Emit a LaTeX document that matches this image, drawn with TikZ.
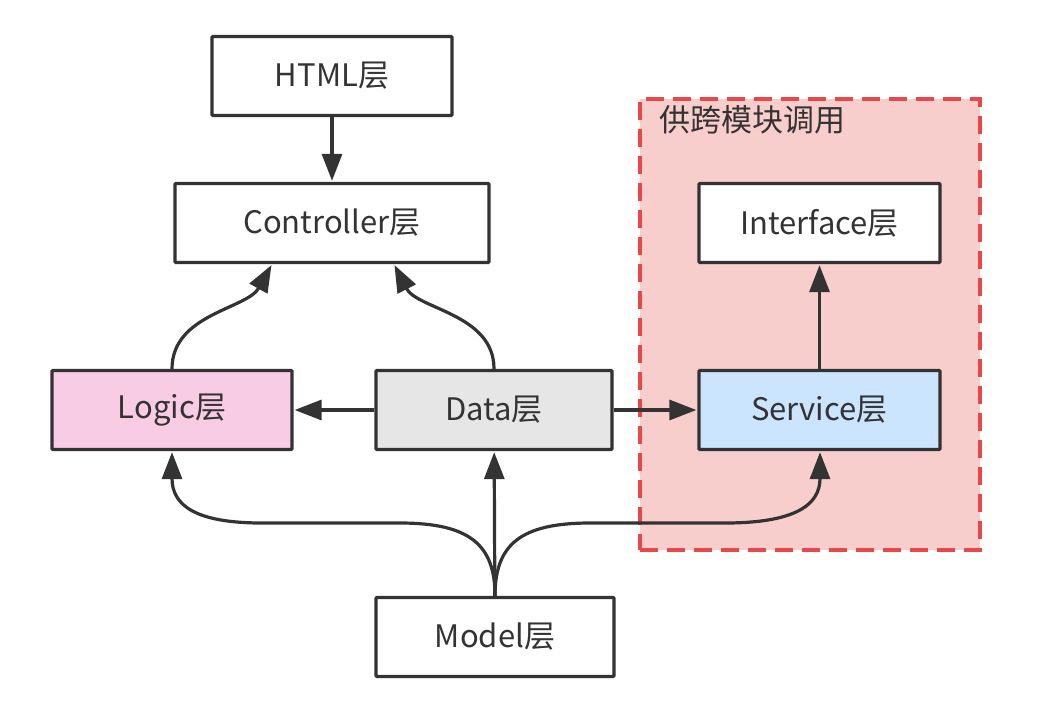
\documentclass[tikz,border=0pt]{standalone}
\usepackage{fontspec}
\setmainfont{Noto Sans CJK SC}
\usetikzlibrary{arrows.meta}
\definecolor{ink}{HTML}{333333}
\definecolor{logicfill}{HTML}{F8CCE4}
\definecolor{datafill}{HTML}{E6E6E6}
\definecolor{servfill}{HTML}{CCE5FF}
\definecolor{grpfill}{HTML}{F8CECC}
\definecolor{grpline}{HTML}{EA4848}
\begin{document}
\begin{tikzpicture}[x=1pt,y=-1pt,
  box/.style={draw=ink, fill=white, line width=3.3pt, minimum width=240pt, minimum height=79pt, inner sep=0pt, font=\fontsize{31}{36}\selectfont, text=ink, rounded corners=1pt},
  conn/.style={draw=ink, line width=3.2pt, -{Triangle[length=27pt,width=20pt]}, shorten >=1pt}]
\useasboundingbox (0,0) rectangle (1048,712);
% group
\node[draw=grpline, fill=grpfill, line width=3.3pt, dash pattern=on 18pt off 9pt, minimum width=340pt, minimum height=451pt, inner sep=0pt] (grp) at (810,324.5) {};
\node[anchor=west, font=\fontsize{31}{36}\selectfont, text=ink, inner sep=0pt] (grplabel) at (659,120) {供跨模块调用};
% boxes
\node[box] (H) at (332,76) {HTML层};
\node[box, minimum width=314pt] (C) at (332,223) {Controller层};
\node[box, minimum width=241pt] (I) at (819.5,223) {Interface层};
\node[box, fill=logicfill] (L) at (172,410) {Logic层};
\node[box, fill=datafill, minimum width=236pt] (D) at (494,410) {Data层};
\node[box, fill=servfill, minimum width=241pt] (S) at (819.5,410) {Service层};
\node[box, minimum width=238pt] (M) at (495,637) {Model层};
% connectors
\draw[conn] (H) -- (C);
\draw[conn] (S) -- (I);
\draw[conn] (D) -- (L);
\draw[conn] (D) -- (S);
\draw[conn] (M) -- (D);
\draw[conn] (L.north) .. controls ([yshift=55pt]L.north) and ([xshift=-85pt,yshift=-45pt]C.south) .. ([xshift=-60pt]C.south);
\draw[conn] (D.north) .. controls ([yshift=55pt]D.north) and ([xshift=85pt,yshift=-45pt]C.south) .. ([xshift=62pt]C.south);
\coordinate (ml1) at (400,523);
\coordinate (ml2) at (262,523);
\coordinate (mr1) at (590,523);
\coordinate (mr2) at (725,523);
\draw[conn] (M.north) .. controls (495,545) and (470,523) .. (ml1) -- (ml2) .. controls (195,523) and (172,505) .. (L.south);
\draw[conn] (M.north) .. controls (495,545) and (520,523) .. (mr1) -- (mr2) .. controls (795,523) and (820,505) .. ([xshift=0.5pt]S.south);
\end{tikzpicture}
\end{document}
